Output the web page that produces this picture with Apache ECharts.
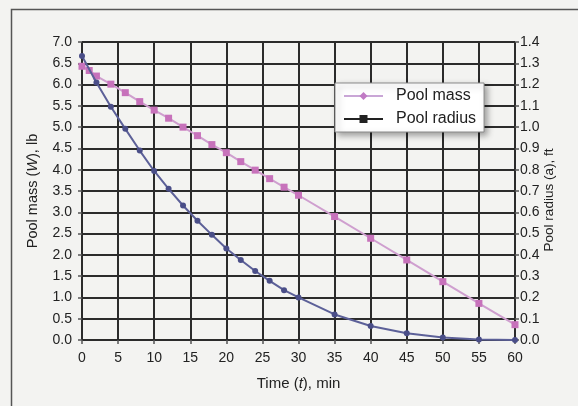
<!DOCTYPE html>
<html>
<head>
<meta charset="utf-8">
<script src="https://cdn.jsdelivr.net/npm/echarts@6/dist/echarts.min.js"></script>
<style>
html,body{margin:0;padding:0;background:#f3f3f1;}
#c{width:578px;height:406px;}
</style>
</head>
<body>
<div id="c"></div>
<script>
// Time values (min)
var massTime = [0, 1, 2, 4, 6, 8, 10, 12, 14, 16, 18, 20, 22, 24, 26, 28, 30, 35, 40, 45, 50, 55, 60];
// Pool mass (W), lb  — left axis
var massValues = [6.43, 6.33, 6.2, 6.01, 5.81, 5.6, 5.4, 5.21, 5.0, 4.8, 4.59, 4.4, 4.19, 3.99, 3.79, 3.59, 3.4, 2.9, 2.39, 1.88, 1.37, 0.86, 0.36];
var radiusTime = [0, 2, 4, 6, 8, 10, 12, 14, 16, 18, 20, 22, 24, 26, 28, 30, 35, 40, 45, 50, 55, 60];
// Pool radius (a), ft — right axis
var radiusValues = [1.334, 1.21, 1.096, 0.992, 0.89, 0.794, 0.71, 0.632, 0.56, 0.494, 0.43, 0.376, 0.324, 0.278, 0.234, 0.2, 0.12, 0.066, 0.032, 0.012, 0.002, 0];
var xTicks = [0, 60, 5];
var leftTicks = [0, 7, 0.5];
var rightTicks = [0, 1.4, 0.1];
var legendNames = ['Pool mass', 'Pool radius'];

function pairs(t, v) { return t.map(function (x, i) { return [x, v[i]]; }); }

var FONT = 'Liberation Sans, Arial, Helvetica, sans-serif';
var chart = echarts.init(document.getElementById('c'));
chart.setOption({
  backgroundColor: '#f3f3f1',
  animation: false,
  graphic: [{
    type: 'rect', left: 9, top: 7, silent: true, z: -1,
    shape: { width: 620, height: 460 },
    style: { fill: 'none', stroke: '#555', lineWidth: 1.5 }
  }],
  grid: { left: 82, right: 63, top: 42, bottom: 66 },
  legend: {
    data: legendNames,
    orient: 'vertical',
    left: 335, top: 83,
    itemWidth: 39, itemHeight: 10, itemGap: 5,
    padding: [4, 8, 4, 8],
    backgroundColor: '#ffffff',
    borderColor: '#8a8a8a', borderWidth: 1,
    shadowBlur: 6, shadowColor: 'rgba(0,0,0,0.35)', shadowOffsetX: 3, shadowOffsetY: 3,
    textStyle: { fontFamily: FONT, fontSize: 16, lineHeight: 18, color: '#222', padding: [0, 0, 0, 8] }
  },
  xAxis: {
    type: 'value', min: xTicks[0], max: xTicks[1], interval: xTicks[2],
    name: 'Time ({i|t}), min', nameLocation: 'middle', nameGap: 36,
    nameTextStyle: { fontFamily: FONT, fontSize: 15, color: '#222',
      rich: { i: { fontFamily: FONT, fontSize: 15, fontStyle: 'italic', color: '#222' } } },
    axisLine: { show: false },
    axisTick: { show: true, length: 4, lineStyle: { color: '#555', width: 1.5 } },
    axisLabel: { fontFamily: FONT, fontSize: 14, color: '#222', margin: 11 },
    splitLine: { show: true, lineStyle: { color: '#2b2b2b', width: 2 } }
  },
  yAxis: [{
    type: 'value', min: leftTicks[0], max: leftTicks[1], interval: leftTicks[2],
    name: 'Pool mass ({i|W}), lb', nameLocation: 'middle', nameGap: 42,
    nameTextStyle: { fontFamily: FONT, fontSize: 14.5, color: '#222',
      rich: { i: { fontFamily: FONT, fontSize: 14.5, fontStyle: 'italic', color: '#222' } } },
    axisLine: { show: false },
    axisTick: { show: true, length: 4, lineStyle: { color: '#555', width: 1.5 } },
    axisLabel: { fontFamily: FONT, fontSize: 14, color: '#222', margin: 10,
      formatter: function (v) { return v.toFixed(1); } },
    splitLine: { show: true, lineStyle: { color: '#2b2b2b', width: 2 } }
  }, {
    type: 'value', min: rightTicks[0], max: rightTicks[1], interval: rightTicks[2],
    position: 'right',
    name: 'Pool radius (a), ft', nameLocation: 'middle', nameGap: 27,
    nameMoveOverlap: false,
    nameTextStyle: { fontFamily: FONT, fontSize: 13.5, color: '#222', padding: [0, 18, 0, 0] },
    axisLine: { show: false },
    axisTick: { show: true, length: 4, lineStyle: { color: '#555', width: 1.5 } },
    axisLabel: { fontFamily: FONT, fontSize: 14, color: '#222', margin: 5,
      formatter: function (v) { return v.toFixed(1); } },
    splitLine: { show: false }
  }],
  series: [{
    name: 'mass', type: 'line', yAxisIndex: 0,
    data: pairs(massTime, massValues),
    symbol: 'rect', symbolSize: 7,
    lineStyle: { color: '#cf9fcf', width: 2 },
    itemStyle: { color: '#c772bb' },
    z: 3
  }, {
    name: 'radius', type: 'line', yAxisIndex: 1,
    data: pairs(radiusTime, radiusValues),
    symbol: 'circle', symbolSize: 6,
    lineStyle: { color: '#5c6098', width: 2 },
    itemStyle: { color: '#4a4e88' },
    z: 4
  }, {
    name: 'Pool mass', type: 'line', data: [],
    symbol: 'diamond', symbolSize: 9,
    lineStyle: { color: '#c9a6d6', width: 2 },
    itemStyle: { color: '#c07ac4' }
  }, {
    name: 'Pool radius', type: 'line', data: [],
    symbol: 'rect', symbolSize: 8,
    lineStyle: { color: '#222', width: 2 },
    itemStyle: { color: '#222' }
  }]
});
</script>
</body>
</html>
